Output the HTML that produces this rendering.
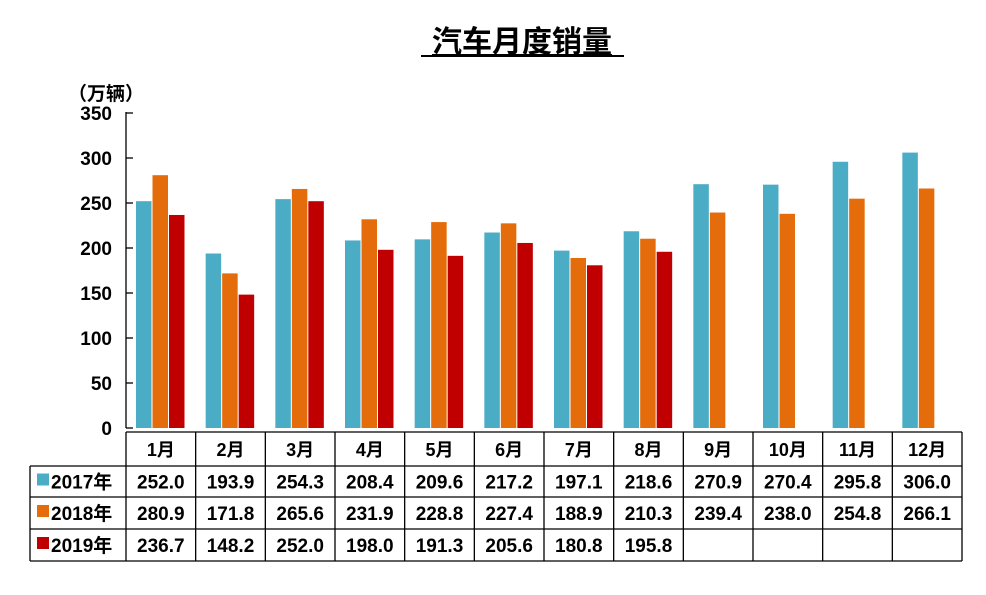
<!DOCTYPE html>
<html><head><meta charset="utf-8"><style>
body{margin:0;background:#fff;width:986px;height:590px;overflow:hidden;font-family:"Liberation Sans","Noto Sans CJK SC",sans-serif}
</style></head><body>
<svg width="986" height="590" font-family="Liberation Sans, Noto Sans CJK SC, sans-serif">
<text x="522" y="52" text-anchor="middle" font-size="30" font-weight="bold" text-decoration="underline">汽车月度销量</text>
<line x1="421" y1="56" x2="624" y2="56" stroke="#000" stroke-width="2"/>
<text x="68" y="100" font-size="19" font-weight="bold">（万辆）</text>
<g id="axis"></g><g id="bars"></g><g id="table"></g>
</svg>
<script>
const months=["1月","2月","3月","4月","5月","6月","7月","8月","9月","10月","11月","12月"];
const s2017=[252.0,193.9,254.3,208.4,209.6,217.2,197.1,218.6,270.9,270.4,295.8,306.0];
const s2018=[280.9,171.8,265.6,231.9,228.8,227.4,188.9,210.3,239.4,238.0,254.8,266.1];
const s2019=[236.7,148.2,252.0,198.0,191.3,205.6,180.8,195.8];
const seriesNames=["2017年","2018年","2019年"];
const yTicks=[0,50,100,150,200,250,300,350];
const colors=["#4bacc6","#e46c0a","#c00000"];
const NS="http://www.w3.org/2000/svg";
const x0=126,x1=962,y0=428,yMax=350,yTop=113;
const gw=(x1-x0)/months.length;
const y=v=>y0-(v/yMax)*(y0-yTop);
function mk(t,a,p){const e=document.createElementNS(NS,t);for(const k in a)e.setAttribute(k,a[k]);p.appendChild(e);return e;}
const ax=document.getElementById('axis');
let l=mk('line',{x1:x0,y1:yTop-1,x2:x0,y2:y0,stroke:'#000','stroke-width':1.3},ax);


yTicks.forEach(t=>{
 const tk=mk('line',{x1:x0,y1:y(t),x2:x0+7,y2:y(t),stroke:'#000','stroke-width':1.3},ax);
 
 
 const tx=mk('text',{x:112,y:y(t)+7,'text-anchor':'end','font-size':19,'font-weight':'bold'},ax);
 tx.textContent=t;
 
 
});
const bg=document.getElementById('bars');
[s2017,s2018,s2019].forEach((s,si)=>{
 s.forEach((v,i)=>{
  const bx=x0+i*gw+10+si*16.5;
  const r=mk('rect',{x:bx,y:y(v),width:15.5,height:y0-y(v),fill:colors[si]},bg);
  
  
 });
});
const tb=document.getElementById('table');
const rowsY=[432,466,497,529,561];
const g='#000';
// header row lines
mk('line',{x1:x0,y1:rowsY[0],x2:x1,y2:rowsY[0],stroke:g,'stroke-width':1.3},tb);
for(let r=1;r<rowsY.length;r++) mk('line',{x1:30,y1:rowsY[r],x2:x1,y2:rowsY[r],stroke:g,'stroke-width':1.3},tb);
mk('line',{x1:30,y1:rowsY[1],x2:30,y2:rowsY[4],stroke:g,'stroke-width':1.3},tb);
for(let i=0;i<=months.length;i++) mk('line',{x1:x0+i*gw,y1:rowsY[0],x2:x0+i*gw,y2:rowsY[4],stroke:g,'stroke-width':1.3},tb);
months.forEach((m,i)=>{
 const t=mk('text',{x:x0+i*gw+gw/2,y:456,'text-anchor':'middle','font-size':18,'font-weight':'bold'},tb);
 t.textContent=m;
 
 
});
[s2017,s2018,s2019].forEach((s,si)=>{
 const cy=(rowsY[si+1]+rowsY[si+2])/2+7;
 const sw=mk('rect',{x:37,y:cy-15,width:12,height:12,fill:colors[si]},tb);
 
 
 const lt=mk('text',{x:51,y:cy,'font-size':19,'font-weight':'bold'},tb);
 lt.textContent=seriesNames[si];
 
 
 s.forEach((v,i)=>{
  const t=mk('text',{x:x0+i*gw+gw/2,y:cy,'text-anchor':'middle','font-size':19,'font-weight':'bold'},tb);
  t.textContent=v.toFixed(1);
  
  
 });
});
</script>
</body></html>
